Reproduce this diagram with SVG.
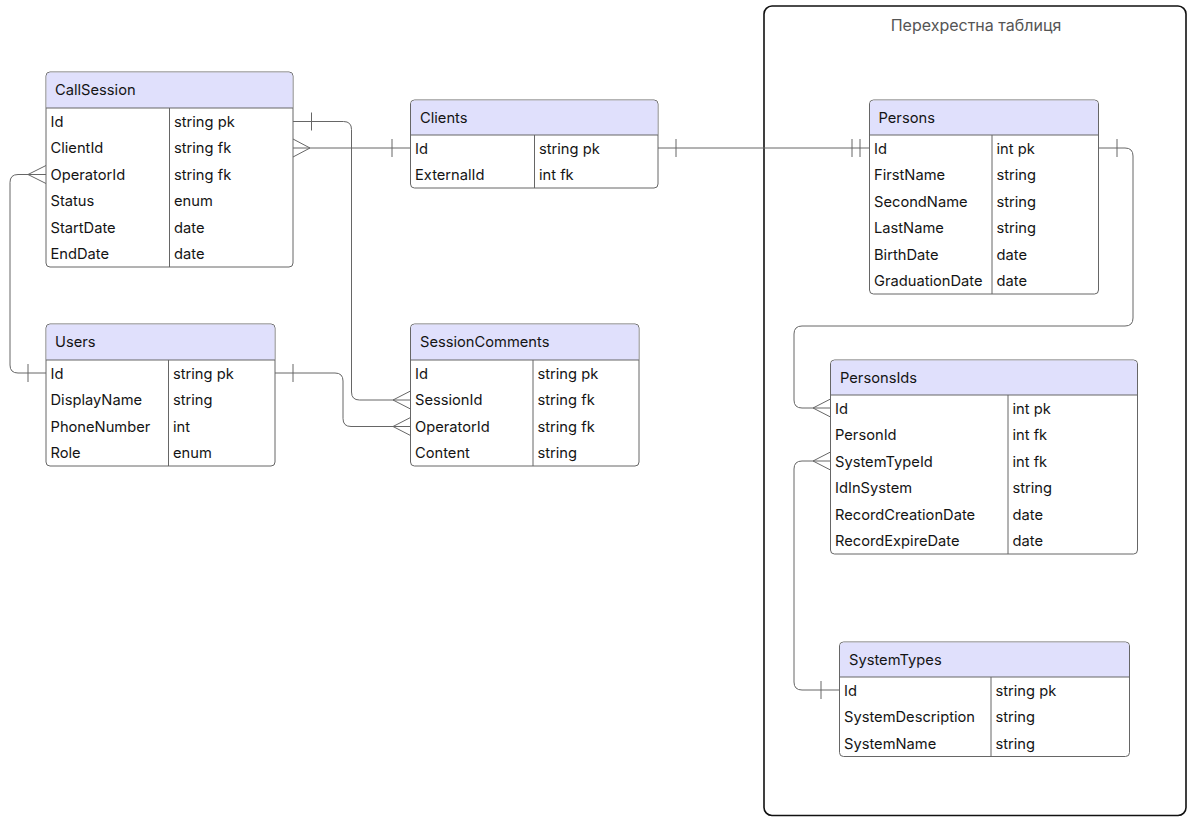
<svg xmlns="http://www.w3.org/2000/svg" width="1191" height="817" viewBox="0 0 1191 817">
<style>
.box{fill:#fff;stroke:#666;stroke-width:1}
.hdr{fill:#e0e0fc;stroke:none}
.ln{stroke:#666;stroke-width:1;fill:none}
.t{font-family:Inter,"Liberation Sans",sans-serif;font-size:14.7px;fill:#141414}
.title{font-family:Inter,"Liberation Sans",sans-serif;font-size:16px;fill:#555;text-anchor:middle}
.c{stroke:#666;stroke-width:1;fill:none}
</style>
<rect width="1191" height="817" fill="#fff"/>
<g id="container">
<rect x="764" y="6" width="422" height="809.5" rx="8" fill="none" stroke="#111" stroke-width="1.6"/>
<text class="title" x="976" y="31">Перехрестна таблиця</text>
</g>
<g id="connectors">
<!-- CallSession.Id -> SessionComments.SessionId -->
<path class="c" d="M293,121.5 H343.5 Q351.5,121.5 351.5,129.5 V392 Q351.5,400 359.5,400 H410.5"/>
<path class="c" d="M311.5,112.5 V130.5"/>
<path class="c" d="M410.5,391 L393,400 L410.5,409"/>
<!-- CallSession.ClientId -> Clients.Id -->
<path class="c" d="M293,148 H410.5"/>
<path class="c" d="M293,139 L310,148 L293,157"/>
<path class="c" d="M392,139 V157"/>
<!-- CallSession.OperatorId -> Users.Id -->
<path class="c" d="M46,174.5 H18 Q10,174.5 10,182.5 V365 Q10,373 18,373 H46"/>
<path class="c" d="M46,165.5 L28,174.5 L46,183.5"/>
<path class="c" d="M28,364 V382"/>
<!-- Users.Id -> SessionComments.OperatorId -->
<path class="c" d="M275,373 H335 Q343,373 343,381 V418.5 Q343,426.5 351,426.5 H410.5"/>
<path class="c" d="M293,364 V382"/>
<path class="c" d="M410.5,417.5 L393,426.5 L410.5,435.5"/>
<!-- Clients.Id -> Persons.Id -->
<path class="c" d="M658,148 H869.5"/>
<path class="c" d="M676,139 V157"/>
<path class="c" d="M852,139 V157 M860,139 V157"/>
<!-- Persons.Id -> PersonsIds.Id -->
<path class="c" d="M1098.5,148 H1125 Q1133,148 1133,156 V318 Q1133,326 1125,326 H802 Q794,326 794,334 V400 Q794,408 802,408 H830.5"/>
<path class="c" d="M1117,139 V157"/>
<path class="c" d="M830.5,399 L813,408 L830.5,417"/>
<!-- SystemTypes.Id -> PersonsIds.SystemTypeId -->
<path class="c" d="M830.5,461 H802 Q794,461 794,469 V682 Q794,690 802,690 H839.5"/>
<path class="c" d="M830.5,452 L813,461 L830.5,470"/>
<path class="c" d="M821,681 V699"/>
</g>
<g id="CallSession">
<rect class="box" x="46" y="72" width="247" height="195" rx="4"/>
<path class="hdr" d="M46.5,108 V76.5 Q46.5,72.5 50.5,72.5 H288.5 Q292.5,72.5 292.5,76.5 V108 Z"/>
<path class="ln" d="M46,108 H293 M169.5,108 V267"/>
<text class="t" x="55" y="95">CallSession</text>
<text class="t" x="50.5" y="126.5">Id</text><text class="t" x="174" y="126.5">string pk</text>
<text class="t" x="50.5" y="153">ClientId</text><text class="t" x="174" y="153">string fk</text>
<text class="t" x="50.5" y="179.5">OperatorId</text><text class="t" x="174" y="179.5">string fk</text>
<text class="t" x="50.5" y="206">Status</text><text class="t" x="174" y="206">enum</text>
<text class="t" x="50.5" y="232.5">StartDate</text><text class="t" x="174" y="232.5">date</text>
<text class="t" x="50.5" y="259">EndDate</text><text class="t" x="174" y="259">date</text>
</g>
<g id="Clients">
<rect class="box" x="410.5" y="100" width="247.5" height="88" rx="4"/>
<path class="hdr" d="M411,135 V104.5 Q411,100.5 415,100.5 H653.5 Q657.5,100.5 657.5,104.5 V135 Z"/>
<path class="ln" d="M410.5,135 H658 M534.5,135 V188"/>
<text class="t" x="420" y="122.5">Clients</text>
<text class="t" x="415" y="153.5">Id</text><text class="t" x="539" y="153.5">string pk</text>
<text class="t" x="415" y="180">ExternalId</text><text class="t" x="539" y="180">int fk</text>
</g>
<g id="Users">
<rect class="box" x="46" y="324" width="229" height="142" rx="4"/>
<path class="hdr" d="M46.5,360 V328.5 Q46.5,324.5 50.5,324.5 H270.5 Q274.5,324.5 274.5,328.5 V360 Z"/>
<path class="ln" d="M46,360 H275 M168.5,360 V466"/>
<text class="t" x="55" y="347">Users</text>
<text class="t" x="50.5" y="378.5">Id</text><text class="t" x="173" y="378.5">string pk</text>
<text class="t" x="50.5" y="405">DisplayName</text><text class="t" x="173" y="405">string</text>
<text class="t" x="50.5" y="431.5">PhoneNumber</text><text class="t" x="173" y="431.5">int</text>
<text class="t" x="50.5" y="458">Role</text><text class="t" x="173" y="458">enum</text>
</g>
<g id="SessionComments">
<rect class="box" x="410.5" y="324" width="228.5" height="142" rx="4"/>
<path class="hdr" d="M411,360 V328.5 Q411,324.5 415,324.5 H634.5 Q638.5,324.5 638.5,328.5 V360 Z"/>
<path class="ln" d="M410.5,360 H639 M533,360 V466"/>
<text class="t" x="420" y="347">SessionComments</text>
<text class="t" x="415" y="378.5">Id</text><text class="t" x="537.5" y="378.5">string pk</text>
<text class="t" x="415" y="405">SessionId</text><text class="t" x="537.5" y="405">string fk</text>
<text class="t" x="415" y="431.5">OperatorId</text><text class="t" x="537.5" y="431.5">string fk</text>
<text class="t" x="415" y="458">Content</text><text class="t" x="537.5" y="458">string</text>
</g>
<g id="Persons">
<rect class="box" x="869.5" y="100" width="229" height="194" rx="4"/>
<path class="hdr" d="M870,135 V104.5 Q870,100.5 874,100.5 H1094 Q1098,100.5 1098,104.5 V135 Z"/>
<path class="ln" d="M869.5,135 H1098.5 M992,135 V294"/>
<text class="t" x="878.5" y="122.5">Persons</text>
<text class="t" x="874" y="153.5">Id</text><text class="t" x="996.5" y="153.5">int pk</text>
<text class="t" x="874" y="180">FirstName</text><text class="t" x="996.5" y="180">string</text>
<text class="t" x="874" y="206.5">SecondName</text><text class="t" x="996.5" y="206.5">string</text>
<text class="t" x="874" y="233">LastName</text><text class="t" x="996.5" y="233">string</text>
<text class="t" x="874" y="259.5">BirthDate</text><text class="t" x="996.5" y="259.5">date</text>
<text class="t" x="874" y="286">GraduationDate</text><text class="t" x="996.5" y="286">date</text>
</g>
<g id="PersonsIds">
<rect class="box" x="830.5" y="360" width="307" height="194" rx="4"/>
<path class="hdr" d="M831,395 V364.5 Q831,360.5 835,360.5 H1133 Q1137,360.5 1137,364.5 V395 Z"/>
<path class="ln" d="M830.5,395 H1137.5 M1008,395 V554"/>
<text class="t" x="840" y="382.5">PersonsIds</text>
<text class="t" x="835" y="413.5">Id</text><text class="t" x="1012.5" y="413.5">int pk</text>
<text class="t" x="835" y="440">PersonId</text><text class="t" x="1012.5" y="440">int fk</text>
<text class="t" x="835" y="466.5">SystemTypeId</text><text class="t" x="1012.5" y="466.5">int fk</text>
<text class="t" x="835" y="493">IdInSystem</text><text class="t" x="1012.5" y="493">string</text>
<text class="t" x="835" y="519.5">RecordCreationDate</text><text class="t" x="1012.5" y="519.5">date</text>
<text class="t" x="835" y="546">RecordExpireDate</text><text class="t" x="1012.5" y="546">date</text>
</g>
<g id="SystemTypes">
<rect class="box" x="839.5" y="642" width="290" height="114.5" rx="4"/>
<path class="hdr" d="M840,677 V646.5 Q840,642.5 844,642.5 H1125 Q1129,642.5 1129,646.5 V677 Z"/>
<path class="ln" d="M839.5,677 H1129.5 M991,677 V756.5"/>
<text class="t" x="849" y="664.5">SystemTypes</text>
<text class="t" x="844" y="695.5">Id</text><text class="t" x="995.5" y="695.5">string pk</text>
<text class="t" x="844" y="722">SystemDescription</text><text class="t" x="995.5" y="722">string</text>
<text class="t" x="844" y="748.5">SystemName</text><text class="t" x="995.5" y="748.5">string</text>
</g>
</svg>
